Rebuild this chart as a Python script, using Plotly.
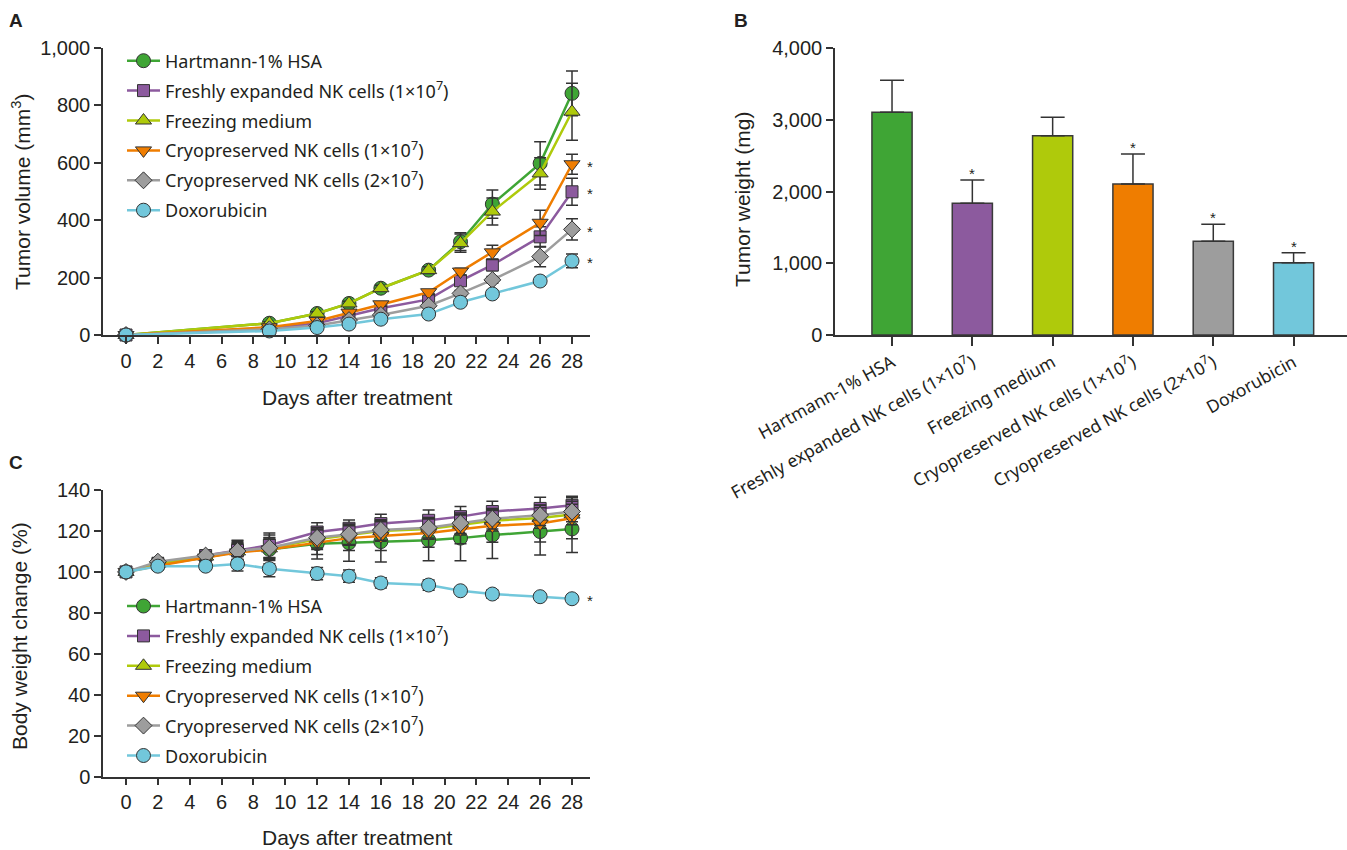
import plotly.graph_objects as go

W, H = 1347, 850

# ---------------- data ----------------
groups = [
    "Hartmann-1% HSA",
    "Freshly expanded NK cells (1×10<sup>7</sup>)",
    "Freezing medium",
    "Cryopreserved NK cells (1×10<sup>7</sup>)",
    "Cryopreserved NK cells (2×10<sup>7</sup>)",
    "Doxorubicin",
]

# Panel A: tumor volume (mm3)
days_a = [0, 9, 12, 14, 16, 19, 21, 23, 26, 28]
vol_hartmann = [0, 41, 75, 110, 163, 226, 325, 456, 598, 842]
vol_fresh = [0, 23, 41, 66, 93, 124, 189, 244, 342, 499]
vol_freezing = [0, 41, 75, 110, 163, 226, 320, 430, 563, 778]
vol_cryo1 = [0, 27, 49, 78, 107, 149, 221, 288, 391, 595]
vol_cryo2 = [0, 20, 33, 52, 70, 102, 145, 192, 273, 368]
vol_doxo = [0, 14, 26, 38, 55, 73, 114, 143, 188, 258]
err_hartmann = [0, 5, 6, 8, 10, 12, 31, 49, 75, 78]
err_fresh = [0, 3, 4, 5, 6, 8, 12, 20, 35, 47]
err_freezing = [0, 5, 6, 8, 10, 12, 32, 47, 55, 99]
err_cryo1 = [0, 3, 4, 5, 7, 9, 12, 25, 44, 35]
err_cryo2 = [0, 2, 3, 4, 5, 7, 10, 12, 35, 37]
err_doxo = [0, 2, 3, 3, 4, 5, 7, 8, 8, 24]

# Panel B: tumor weight (mg)
weights = [3104, 1835, 2778, 2104, 1306, 1008]
weights_err = [445, 325, 256, 419, 237, 139]
weights_sig = [False, True, False, True, True, True]

# Panel C: body weight change (%)
days_c = [0, 2, 5, 7, 9, 12, 14, 16, 19, 21, 23, 26, 28]
bw_hartmann = [100, 103.5, 107, 110, 111, 113.8, 114.2, 114.8, 115.5, 116.5, 118, 119.7, 121]
bw_fresh = [100, 104, 108, 110.5, 113, 119.5, 121.3, 123.6, 125.2, 127, 129.5, 131, 132.5]
bw_freezing = [100, 104, 107.5, 110, 111.5, 116, 118, 120, 121, 123, 125, 126.3, 128]
bw_cryo1 = [100, 103, 107, 109.5, 111, 114.5, 116.5, 117.5, 119, 120.8, 122.5, 123.6, 126.2]
bw_cryo2 = [100, 105, 108, 110.2, 111.8, 116.7, 118.4, 120.5, 121.6, 123.8, 126, 127.7, 129.5]
bw_doxo = [100, 102.8, 102.8, 103.9, 101.6, 99.2, 97.9, 94.6, 93.6, 90.8, 89.2, 87.9, 86.9]
bwerr_hartmann = [2, 2, 2, 5, 7, 7.5, 9, 10, 10, 11, 11.5, 11.5, 11.5]
bwerr_fresh = [2, 2, 2, 5, 6, 4.5, 4, 4.5, 5, 5, 5, 5.5, 4.5]
bwerr_freezing = [2, 2, 2, 4, 5, 5, 5, 5, 5, 5, 5, 5, 5]
bwerr_cryo1 = [2, 2, 2, 4, 5, 6, 6, 7, 7, 7, 8, 9, 10]
bwerr_cryo2 = [2, 2, 2, 4, 5, 5, 5, 5, 5, 5, 5, 5, 5]
bwerr_doxo = [1.5, 1.5, 1.5, 3.5, 4, 3, 3, 2.5, 2.5, 1, 2, 1, 1]

days_ticks = list(range(0, 29, 2))

# significance flags for line panels
sig_a = [False, True, False, True, True, True]
sig_c = [False, False, False, False, False, True]

# ---------------- style ----------------
colors = ["#3FA535", "#8C5A9E", "#AFCA0B", "#EF7D00", "#9D9D9D", "#72C7DB"]
symbols = ["circle", "square", "triangle-up", "triangle-down", "diamond", "circle"]
msizes = [14, 12, 14, 14, 13, 14]
INK = "#231f20"
AX = "#333333"
TICKFONT = dict(family="Liberation Sans", size=20, color=INK)
LEGFONT = dict(family="Noto Sans", size=18, color=INK)

vol_series = [vol_hartmann, vol_fresh, vol_freezing, vol_cryo1, vol_cryo2, vol_doxo]
vol_errs = [err_hartmann, err_fresh, err_freezing, err_cryo1, err_cryo2, err_doxo]
bw_series = [bw_hartmann, bw_fresh, bw_freezing, bw_cryo1, bw_cryo2, bw_doxo]
bw_errs = [bwerr_hartmann, bwerr_fresh, bwerr_freezing, bwerr_cryo1, bwerr_cryo2, bwerr_doxo]

fig = go.Figure()

def add_lines(days, series, errs, xa, ya, leg, prefix):
    for i, (name, ys, es) in enumerate(zip(groups, series, errs)):
        fig.add_trace(go.Scatter(
            x=days, y=ys, name=name, mode="lines+markers",
            xaxis=xa, yaxis=ya, legend=leg, legendgroup=prefix + str(i),
            line=dict(color=colors[i], width=2.5),
            marker=dict(symbol=symbols[i], size=msizes[i], color=colors[i],
                        line=dict(color=AX, width=1)),
            error_y=dict(type="data", array=es, color=AX, thickness=1.5, width=6),
            cliponaxis=False,
        ))

add_lines(days_a, vol_series, vol_errs, "x", "y", "legend", "a")
add_lines(days_c, bw_series, bw_errs, "x3", "y3", "legend2", "c")

fig.add_trace(go.Bar(
    x=groups, y=weights, xaxis="x2", yaxis="y2", showlegend=False, width=0.5,
    marker=dict(color=colors, line=dict(color="#3a3a3a", width=1.5)),
    error_y=dict(type="data", array=weights_err, arrayminus=[0] * len(weights),
                 symmetric=False, color=AX, thickness=1.5, width=12),
))

def px_x(p):
    return p / W

def px_y(p):
    return 1 - p / H

base_axis = dict(showline=True, linecolor=AX, linewidth=1.5, ticks="outside",
                 ticklen=7, tickwidth=1.5, tickcolor=AX, showgrid=False,
                 zeroline=False, tickfont=TICKFONT, automargin=False)

annotations = []
# Panel letters
for letter, x, y in [("A", 16, 20), ("B", 741, 20), ("C", 16, 462)]:
    annotations.append(dict(text="<b>%s</b>" % letter, x=px_x(x), y=px_y(y),
                            xref="paper", yref="paper", showarrow=False,
                            xanchor="center", yanchor="middle",
                            font=dict(family="Liberation Sans", size=19, color=INK)))
# axis titles
TITLEFONT = dict(family="Liberation Sans", size=21, color=INK)
for txt, x, y, ang in [
    ("Days after treatment", 357, 397, 0),
    ("Days after treatment", 357, 837, 0),
    ("Tumor volume (mm<sup>3</sup>)", 21, 192, -90),
    ("Body weight change (%)", 19, 636, -90),
    ("Tumor weight (mg)", 742, 200, -90),
]:
    annotations.append(dict(text=txt, x=px_x(x), y=px_y(y), xref="paper", yref="paper",
                            showarrow=False, textangle=ang, xanchor="center",
                            yanchor="middle", font=TITLEFONT))

STAR = dict(family="Liberation Sans", size=15, color=INK)
for s, ys in zip(sig_a, vol_series):
    if s:
        annotations.append(dict(text="*", x=days_a[-1] + 1.1, y=ys[-1], xref="x", yref="y",
                                showarrow=False, font=STAR, xanchor="center",
                                yanchor="middle", yshift=-2))
for s, ys in zip(sig_c, bw_series):
    if s:
        annotations.append(dict(text="*", x=days_c[-1] + 1.1, y=ys[-1], xref="x3", yref="y3",
                                showarrow=False, font=STAR, xanchor="center",
                                yanchor="middle", yshift=-2))
for s, g, v, e in zip(weights_sig, groups, weights, weights_err):
    if s:
        annotations.append(dict(text="*", x=g, y=v + e, xref="x2", yref="y2",
                                showarrow=False, font=STAR, yanchor="bottom", yshift=-4))

fig.update_layout(
    width=W, height=H, margin=dict(l=0, r=0, t=0, b=0, pad=0, autoexpand=False),
    autosize=False,
    paper_bgcolor="white", plot_bgcolor="white",
    xaxis=dict(base_axis, domain=[px_x(103), px_x(590)], range=[-1.444, 29.13],
               tickmode="array", tickvals=days_ticks, anchor="y"),
    yaxis=dict(base_axis, domain=[px_y(335), px_y(48)], range=[0, 1000], dtick=200,
               tickformat=",", anchor="x"),
    xaxis2=dict(base_axis, domain=[px_x(835), 1.0], range=[-0.71, 5.665], type="category",
                tickangle=-29, ticklen=9,
                tickfont=dict(family="Noto Sans", size=17.5, color=INK), anchor="y2"),
    yaxis2=dict(base_axis, domain=[px_y(335), px_y(48)], range=[0, 4000], dtick=1000,
                tickformat=",", anchor="x2"),
    xaxis3=dict(base_axis, domain=[px_x(103), px_x(590)], range=[-1.444, 29.13],
                tickmode="array", tickvals=days_ticks, anchor="y3"),
    yaxis3=dict(base_axis, domain=[px_y(776.7), px_y(490)], range=[0, 140], dtick=20,
                anchor="x3"),
    legend=dict(x=px_x(122), y=px_y(42.5), xanchor="left", yanchor="top", font=LEGFONT,
                bgcolor="rgba(0,0,0,0)", traceorder="grouped", tracegroupgap=3.5,
                itemwidth=33),
    legend2=dict(x=px_x(122), y=px_y(587.8), xanchor="left", yanchor="top", font=LEGFONT,
                 bgcolor="rgba(0,0,0,0)", traceorder="grouped", tracegroupgap=3.5,
                 itemwidth=33),
    annotations=annotations,
    showlegend=True,
)

fig.write_html("out.html")
